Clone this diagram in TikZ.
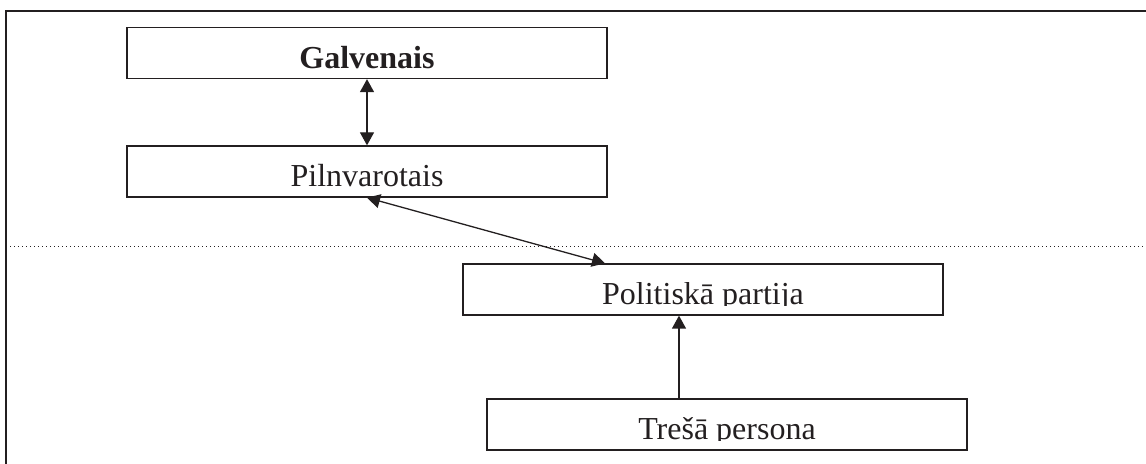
\documentclass[tikz,border=0pt]{standalone}
\usepackage{fontspec}
\setmainfont{Liberation Serif}
\usepackage{trimclip}
\newcommand*{\boxfont}{\fontsize{16}{19}\selectfont}
\newcommand*{\cutdesc}[1]{\clipbox{0pt {\depth-0.5pt} 0pt 0pt}{#1}}
\definecolor{ink}{cmyk}{0.00,0.00,0.00,1.00}
\usetikzlibrary{arrows.meta}
\usetikzlibrary{positioning}
\tikzstyle{base}=[x=0.5pt, y=-0.5pt, line width=0.65pt, ink]
\tikzstyle{box}=[draw, inner sep=0pt, minimum width=240pt, text height=20.5pt, text depth=5pt]
\tikzstyle{link}=[-{Triangle[length=6.5pt,width=7pt]}]
\tikzstyle{both}=[{Triangle[length=6.5pt,width=7pt]}-{Triangle[length=6.5pt,width=7pt]}]

\begin{document}
\begin{tikzpicture}[base]
    \boxfont
        \useasboundingbox (0,0) rectangle (1146,464);
        \draw (6,464) -- (6,11) -- (1146,11);
        \draw [line width=0.5pt, dash pattern=on 0.5pt off 1.5pt] (6,247) -- (1146,247);
        \node [box] (gal) at (367,53) {\bfseries Galvenais};
        \node [box] (pil) at (367,171.5) {Pilnvarotais};
        \node [box] (pol) at (703,289.5) {\cutdesc{Politiskā partija}};
        \node [box] (tre) at (727,424.5) {\cutdesc{Trešā persona}};
        \draw [both] (gal) -- (pil);
        \draw [both] (pil.south) -- ([xshift=-49pt]pol.north);
        \draw [link] ([xshift=-24pt]tre.north) -- ([xshift=-24pt]tre.north |- pol.south);
    \end{tikzpicture}
\end{document}
